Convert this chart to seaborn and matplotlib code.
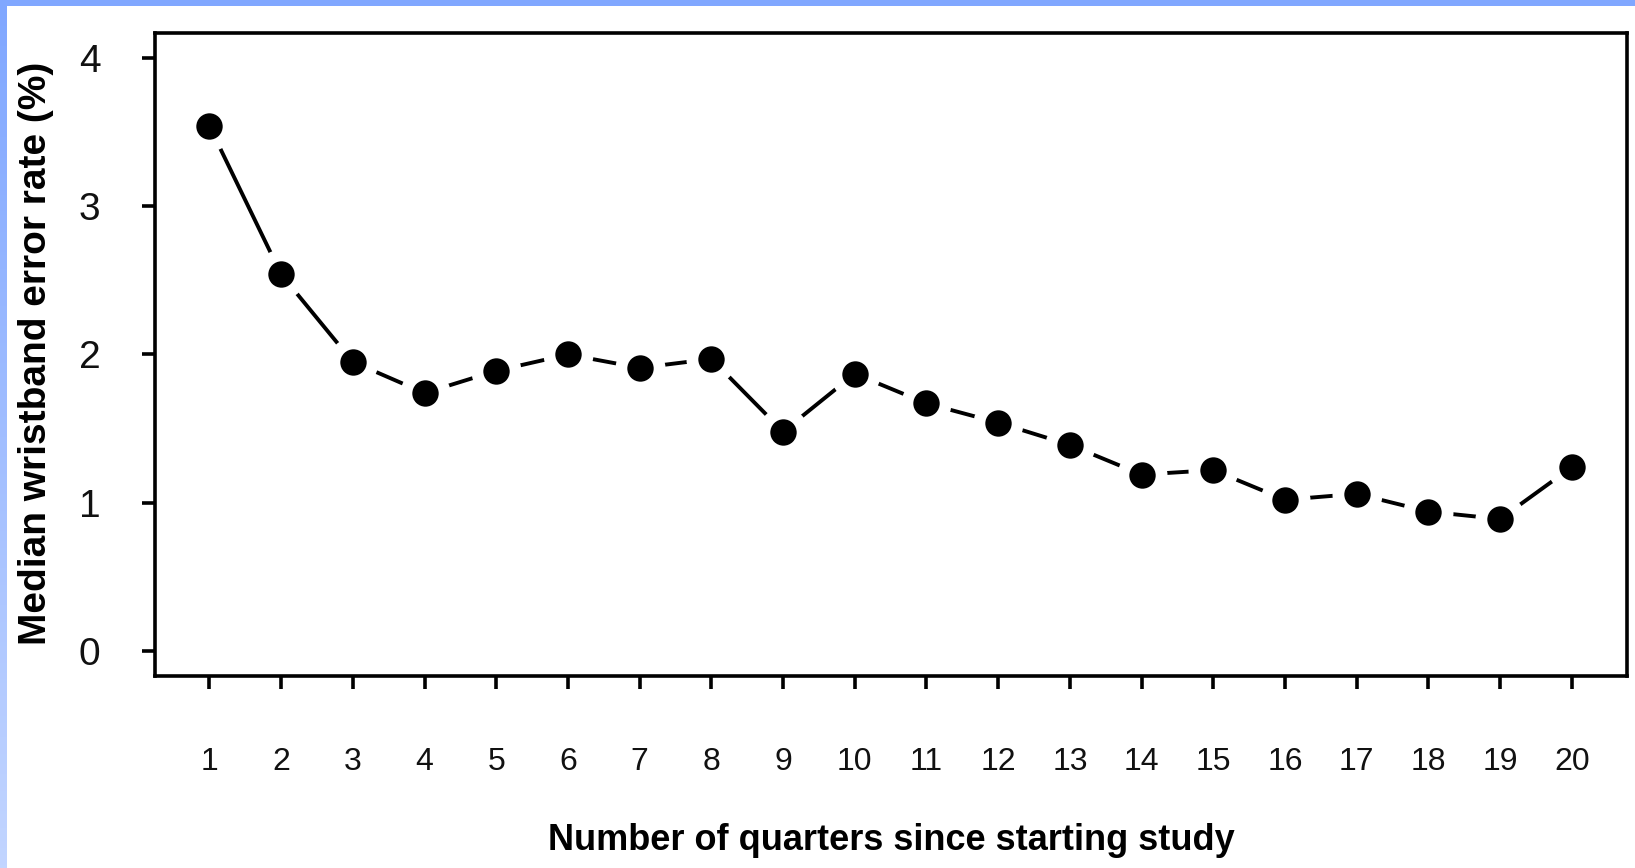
import numpy as np
import pandas as pd
import matplotlib
matplotlib.use("Agg")
import matplotlib.pyplot as plt
from matplotlib.colors import LinearSegmentedColormap
import seaborn as sns

# Median wristband error rate per quarter of study
quarters = list(range(1, 21))
error_rate = [3.54, 2.54, 1.95, 1.74, 1.89, 2.00, 1.91, 1.97, 1.48, 1.87,
              1.67, 1.54, 1.39, 1.19, 1.22, 1.02, 1.06, 0.94, 0.89, 1.24]
y_ticks = [0, 1, 2, 3, 4]

df = pd.DataFrame({"quarter": quarters, "rate": error_rate})

sns.set_theme(style="white")
plt.rcParams["font.family"] = ["Liberation Sans", "DejaVu Sans"]

W, H = 1635, 868
fig = plt.figure(figsize=(W / 100, H / 100), dpi=100, facecolor="white")

# Blue frame strips along the top and left edges
top = fig.add_axes([0, 1 - 6 / H, 1, 6 / H])
top.set_facecolor("#80a7ff")
top.set_xticks([]); top.set_yticks([])
for s in top.spines.values():
    s.set_visible(False)
left = fig.add_axes([0, 0, 6 / W, 1 - 6 / H])
grad = LinearSegmentedColormap.from_list("edge", ["#80a7ff", "#c2d5ff"])
left.imshow(np.linspace(0, 1, 256).reshape(-1, 1), aspect="auto", cmap=grad,
            extent=[0, 1, 0, 1], origin="upper")
left.set_axis_off()

ax = fig.add_axes([155 / W, 1 - 676 / H, (1627 - 155) / W, (676 - 33) / H])
ax.set_facecolor("white")

# Line, then white halos to open gaps around points, then the points
sns.lineplot(data=df, x="quarter", y="rate", color="black", linewidth=2.8,
             ax=ax, zorder=2)
sns.scatterplot(data=df, x="quarter", y="rate", s=36 ** 2, color="white",
                linewidth=0, ax=ax, zorder=3)
sns.scatterplot(data=df, x="quarter", y="rate", s=19 ** 2, color="black",
                linewidth=0, ax=ax, zorder=4)

ax.set_xlim(0.24, 20.77)
ax.set_ylim(-0.169, 4.169)
ax.set_xticks(quarters)
ax.set_xticklabels([str(q) for q in quarters])
ax.set_yticks(y_ticks)
ax.set_yticklabels([str(t) for t in y_ticks])

for s in ax.spines.values():
    s.set_visible(True)
    s.set_color("black")
    s.set_linewidth(2.6)

ax.tick_params(axis="x", direction="out", length=9.4, width=2.6, color="black",
               pad=42, labelsize=23, labelcolor="#111111", bottom=True)
ax.tick_params(axis="y", direction="out", length=9.4, width=2.6, color="black",
               pad=30, labelsize=28, labelcolor="#111111", left=True)

ax.set_xlabel("Number of quarters since starting study", fontsize=26,
              fontweight="bold", va="center", color="black")
ax.xaxis.set_label_coords(0.5, -(840 - 676) / (676 - 33))
ax.set_ylabel("Median wristband error rate (%)", fontsize=28,
              fontweight="bold", va="center", color="black")
ax.yaxis.set_label_coords(-(155 - 36) / (1627 - 155), (676 - 353) / (676 - 33))

fig.savefig("out.png", dpi=100, facecolor="white")
